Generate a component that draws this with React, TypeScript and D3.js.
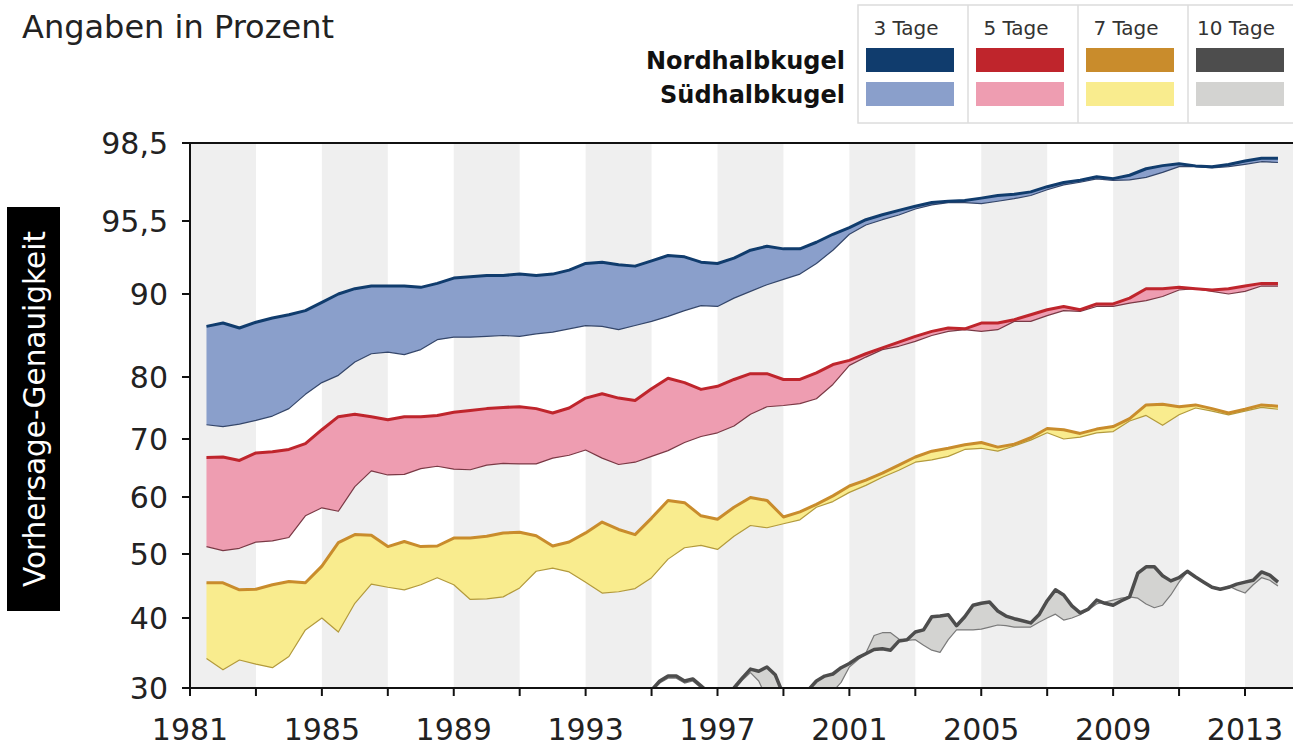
import React from 'react';
import * as d3 from 'd3';

// ---------- DATA ----------
const yearsMain = [
  1981.5, 1982, 1982.5, 1983, 1983.5, 1984, 1984.5, 1985, 1985.5, 1986,
  1986.5, 1987, 1987.5, 1988, 1988.5, 1989, 1989.5, 1990, 1990.5, 1991,
  1991.5, 1992, 1992.5, 1993, 1993.5, 1994, 1994.5, 1995, 1995.5, 1996,
  1996.5, 1997, 1997.5, 1998, 1998.5, 1999, 1999.5, 2000, 2000.5, 2001,
  2001.5, 2002, 2002.5, 2003, 2003.5, 2004, 2004.5, 2005, 2005.5, 2006,
  2006.5, 2007, 2007.5, 2008, 2008.5, 2009, 2009.5, 2010, 2010.5, 2011,
  2011.5, 2012, 2012.5, 2013, 2013.5, 2014,
];

const nh3 = [
  86.1, 86.5, 85.9, 86.6, 87.1, 87.5, 88.0, 89.0, 90.0, 90.4,
  90.6, 90.6, 90.6, 90.5, 90.8, 91.2, 91.3, 91.4, 91.4, 91.5,
  91.4, 91.5, 91.8, 92.3, 92.4, 92.2, 92.1, 92.5, 92.9, 92.8,
  92.4, 92.3, 92.7, 93.3, 93.6, 93.4, 93.4, 93.9, 94.5, 95.0,
  95.55, 95.74, 95.91, 96.07, 96.21, 96.26, 96.29, 96.38, 96.48, 96.53,
  96.62, 96.82, 96.98, 97.07, 97.2, 97.13, 97.26, 97.51, 97.63, 97.7,
  97.62, 97.59, 97.67, 97.81, 97.91, 97.91,
];
const sh3 = [
  72.3, 72.0, 72.4, 73.0, 73.7, 74.9, 77.2, 79.1, 80.2, 81.8,
  82.8, 83.0, 82.7, 83.3, 84.5, 84.8, 84.8, 84.9, 85.0, 84.9,
  85.2, 85.4, 85.8, 86.2, 86.1, 85.7, 86.2, 86.7, 87.3, 88.0,
  88.6, 88.5, 89.5, 90.2, 90.7, 91.1, 91.5, 92.3, 93.3, 94.5,
  95.2, 95.55, 95.73, 95.96, 96.12, 96.21, 96.21, 96.17, 96.26, 96.36,
  96.48, 96.7, 96.89, 96.99, 97.12, 97.06, 97.08, 97.18, 97.37, 97.59,
  97.59, 97.54, 97.59, 97.68, 97.78, 97.75,
];
const nh5 = [
  66.8, 66.9, 66.3, 67.6, 67.8, 68.2, 69.2, 71.5, 73.6, 74.0,
  73.6, 73.1, 73.6, 73.6, 73.8, 74.3, 74.6, 74.9, 75.1, 75.2,
  74.9, 74.2, 75.0, 76.6, 77.3, 76.6, 76.2, 78.1, 79.8, 79.1,
  78.0, 78.5, 79.6, 80.4, 80.4, 79.6, 79.6, 80.5, 81.5, 82.0,
  82.8, 83.5, 84.2, 84.9, 85.5, 85.9, 85.8, 86.5, 86.5, 86.9,
  87.5, 88.1, 88.5, 88.1, 88.8, 88.8, 89.5, 90.4, 90.4, 90.5,
  90.4, 90.3, 90.4, 90.6, 90.8, 90.8,
];
const sh5 = [
  51.3, 50.6, 51.0, 52.1, 52.3, 52.9, 56.7, 58.1, 57.5, 61.8,
  64.5, 63.8, 63.9, 64.9, 65.3, 64.8, 64.7, 65.5, 65.8, 65.7,
  65.7, 66.7, 67.2, 68.1, 66.7, 65.6, 66.0, 67.0, 68.0, 69.4,
  70.4, 71.0, 72.1, 74.0, 75.2, 75.4, 75.7, 76.5, 78.8, 81.4,
  82.4, 83.3, 83.7, 84.3, 85.0, 85.5, 85.7, 85.5, 85.7, 86.7,
  86.7, 87.4, 88.0, 87.9, 88.5, 88.5, 88.9, 89.2, 89.7, 90.3,
  90.4, 90.2, 90.0, 90.2, 90.6, 90.6,
];
const nh7 = [
  45.5, 45.5, 44.4, 44.5, 45.2, 45.7, 45.5, 48.1, 52.0, 53.4,
  53.3, 51.3, 52.2, 51.3, 51.4, 52.8, 52.8, 53.1, 53.7, 53.8,
  53.2, 51.4, 52.1, 53.7, 55.6, 54.3, 53.4, 56.3, 59.4, 59.0,
  56.7, 56.1, 58.2, 59.9, 59.4, 56.5, 57.4, 58.7, 60.2, 61.9,
  62.9, 64.1, 65.5, 66.9, 67.9, 68.4, 69.0, 69.4, 68.6, 69.1,
  70.2, 71.7, 71.5, 70.9, 71.6, 72.0, 73.3, 75.5, 75.6, 75.2,
  75.5, 74.9, 74.2, 74.8, 75.5, 75.3,
];
const sh7 = [
  34.2, 32.6, 34.0, 33.4, 32.9, 34.5, 38.3, 40.0, 38.0, 42.3,
  45.3, 44.8, 44.4, 45.2, 46.3, 45.2, 42.9, 43.0, 43.3, 44.7,
  47.3, 47.8, 47.2, 45.6, 43.9, 44.1, 44.6, 46.3, 49.2, 51.1,
  51.5, 50.8, 53.1, 55.0, 54.6, 55.3, 56.0, 58.2, 59.2, 60.8,
  62.0, 63.4, 64.6, 66.0, 66.4, 67.0, 68.2, 68.4, 67.9, 68.8,
  69.8, 71.0, 70.0, 70.3, 71.0, 71.2, 72.9, 73.8, 72.2, 73.9,
  75.0, 74.5, 73.9, 74.5, 75.1, 74.8,
];

const years10 = [
  1994.75,
  1995, 1995.25, 1995.5, 1995.75, 1996, 1996.25, 1996.5, 1996.75,
  1997, 1997.25, 1997.5, 1997.75, 1998, 1998.25, 1998.5, 1998.75,
  1999, 1999.25, 1999.5, 1999.75, 2000, 2000.25, 2000.5, 2000.75,
  2001, 2001.25, 2001.5, 2001.75, 2002, 2002.25, 2002.5, 2002.75,
  2003, 2003.25, 2003.5, 2003.75, 2004, 2004.25, 2004.5, 2004.75,
  2005, 2005.25, 2005.5, 2005.75, 2006, 2006.25, 2006.5, 2006.75,
  2007, 2007.25, 2007.5, 2007.75, 2008, 2008.25, 2008.5, 2008.75,
  2009, 2009.25, 2009.5, 2009.75, 2010, 2010.25, 2010.5, 2010.75,
  2011, 2011.25, 2011.5, 2011.75, 2012, 2012.25, 2012.5, 2012.75,
  2013, 2013.25, 2013.5, 2013.75, 2014,
];
const nh10 = [
  28.5,
  29.7, 31.0, 31.7, 31.7, 31.0, 31.3, 30.3, 29.3,
  28.5, 29.0, 30.0, 31.4, 32.7, 32.4, 33.0, 31.9,
  29.0, 28.0, 28.5, 29.7, 31.0, 31.7, 32.0, 32.9,
  33.5, 34.3, 34.9, 35.5, 35.6, 35.4, 36.7, 36.9,
  38.0, 38.3, 40.2, 40.3, 40.5, 38.9, 40.2, 42.0,
  42.3, 42.5, 41.1, 40.3, 39.9, 39.6, 39.3, 40.5,
  42.7, 44.4, 43.6, 41.9, 40.8, 41.4, 42.8, 42.3,
  42.0, 42.7, 43.3, 47.0, 48.0, 48.0, 46.6, 45.8,
  46.3, 47.3, 46.4, 45.6, 44.8, 44.5, 44.8, 45.3,
  45.6, 45.9, 47.2, 46.7, 45.6,
];
const sh10 = [
  28.3,
  29.5, 30.7, 31.4, 31.4, 30.7, 31.0, 30.0, 29.0,
  28.3, 28.7, 29.7, 31.1, 32.2, 31.0, 28.5, 28.5,
  28.0, 27.8, 28.0, 28.0, 28.5, 29.0, 29.5, 30.8,
  33.0, 34.0, 35.0, 37.5, 37.9, 37.9, 37.0, 36.8,
  36.9, 36.1, 35.4, 35.1, 36.9, 38.3, 38.3, 38.3,
  38.4, 38.7, 39.0, 38.9, 38.7, 38.7, 38.7, 39.4,
  40.0, 40.6, 39.7, 40.0, 40.5, 41.3, 42.2, 42.5,
  42.8, 43.1, 43.3, 43.1, 42.2, 41.6, 42.0, 43.6,
  45.6, 47.2, 46.3, 45.5, 44.7, 44.4, 45.0, 44.4,
  43.9, 45.2, 46.3, 45.9, 45.0,
];

const yTickValues = [30, 40, 50, 60, 70, 80, 90, 95.5, 98.5];
const yTickLabels = ['30', '40', '50', '60', '70', '80', '90', '95,5', '98,5'];
const xTickYears = [1981, 1983, 1985, 1987, 1989, 1991, 1993, 1995, 1997, 1999, 2001, 2003, 2005, 2007, 2009, 2011, 2013];
const xLabelYears = [1981, 1985, 1989, 1993, 1997, 2001, 2005, 2009, 2013];
const stripeStarts = [1981, 1985, 1989, 1993, 1997, 2001, 2005, 2009, 2013];
const leadLabels = ['3 Tage', '5 Tage', '7 Tage', '10 Tage'];
const hemiLabels = ['Nordhalbkugel', 'Südhalbkugel'];
const subtitle = 'Angaben in Prozent';
const yTitle = 'Vorhersage-Genauigkeit';

// ---------- STYLE ----------
const FONT = "'DejaVu Sans', Verdana, sans-serif";
const nhColors = ['#103c6d', '#bf252c', '#c98c2c', '#4d4d4d'];
const shFills = ['#8a9fcb', '#ee9db1', '#f9ec8e', '#d3d3d1'];
const shStrokes = ['#34466a', '#7a3945', '#b39a3c', '#7a7a7a'];

const W = 1293;
const H = 746;
const PL = 190;
const PT = 143;
const PB = 688;
const PR = 1293;

export default function App() {
  const x = d3.scaleLinear().domain([1981, 2013]).range([190, 1245]);
  const y = d3.scaleLinear().domain(yTickValues).range([688, 618, 554, 497, 439, 377, 294, 221, 143]);

  const groups = [
    { years: yearsMain, nh: nh3, sh: sh3 },
    { years: yearsMain, nh: nh5, sh: sh5 },
    { years: yearsMain, nh: nh7, sh: sh7 },
    { years: years10, nh: nh10, sh: sh10 },
  ];

  const shapes = groups.map((g) => {
    const n = Math.min(g.years.length, g.nh.length, g.sh.length);
    const idx = d3.range(n);
    const area = d3
      .area<number>()
      .x((i) => x(g.years[i]))
      .y0((i) => y(g.sh[i]))
      .y1((i) => y(g.nh[i]))(idx) as string;
    const nhLine = d3
      .line<number>()
      .x((i) => x(g.years[i]))
      .y((i) => y(g.nh[i]))(idx) as string;
    const shLine = d3
      .line<number>()
      .x((i) => x(g.years[i]))
      .y((i) => y(g.sh[i]))(idx) as string;
    return { area, nhLine, shLine };
  });

  const colX = [858, 968, 1078, 1188];

  return (
    <svg
      width={W}
      height={H}
      style={{ position: 'absolute', left: 0, top: 0, background: '#fff' }}
      fontFamily={FONT}
    >
      <defs>
        <clipPath id="plotClip">
          <rect x={PL} y={PT} width={PR - PL} height={PB - PT - 1} />
        </clipPath>
      </defs>

      {/* subtitle */}
      <text x={22} y={38} fontSize={32} fill="#222">
        {subtitle}
      </text>

      {/* legend */}
      <g>
        <rect x={858} y={5} width={440} height={118} fill="#fff" stroke="#dcdcdc" strokeWidth={1.5} />
        {colX.slice(1).map((cx) => (
          <line key={cx} x1={cx} x2={cx} y1={5} y2={123} stroke="#dcdcdc" strokeWidth={1.5} />
        ))}
        {leadLabels.map((l, i) => (
          <g key={l}>
            <text x={colX[i] + 48} y={35} fontSize={20} fill="#333" textAnchor="middle">
              {l}
            </text>
            <rect x={colX[i] + 8} y={48} width={88} height={24} fill={nhColors[i]} />
            <rect x={colX[i] + 8} y={82} width={88} height={24} fill={shFills[i]} />
          </g>
        ))}
        {hemiLabels.map((h, j) => (
          <text key={h} x={845} y={69 + j * 34} fontSize={24} fontWeight="bold" fill="#111" textAnchor="end">
            {h}
          </text>
        ))}
      </g>

      {/* background stripes */}
      <g clipPath="url(#plotClip)">
        {stripeStarts.map((s) => (
          <rect key={s} x={x(s)} y={PT} width={x(s + 2) - x(s)} height={PB - PT} fill="#efefef" />
        ))}
      </g>

      {/* series */}
      <g clipPath="url(#plotClip)">
        {shapes.map((s, i) => (
          <g key={i}>
            <path d={s.area} fill={shFills[i]} stroke="none" />
            <path d={s.shLine} fill="none" stroke={shStrokes[i]} strokeWidth={1.2} strokeLinejoin="round" />
            <path d={s.nhLine} fill="none" stroke={nhColors[i]} strokeWidth={i === 3 ? 3.5 : 3} strokeLinejoin="round" />
          </g>
        ))}
      </g>

      {/* axes */}
      <line x1={PL} x2={PR} y1={PT} y2={PT} stroke="#111" strokeWidth={2} />
      <line x1={PL} x2={PL} y1={PT} y2={PB} stroke="#111" strokeWidth={2} />
      <line x1={PL} x2={PR} y1={PB} y2={PB} stroke="#111" strokeWidth={2} />

      {yTickValues.map((v, i) => (
        <g key={v}>
          <line x1={PL - 8} x2={PL} y1={y(v)} y2={y(v)} stroke="#111" strokeWidth={2} />
          <text x={168} y={y(v)} dy="0.36em" fontSize={30} fill="#222" textAnchor="end">
            {yTickLabels[i]}
          </text>
        </g>
      ))}

      {xTickYears.map((t) => (
        <line key={t} x1={x(t)} x2={x(t)} y1={PB} y2={PB + 8} stroke="#111" strokeWidth={2} />
      ))}
      {xLabelYears.map((t) => (
        <text key={t} x={x(t)} y={740} fontSize={30} fill="#222" textAnchor="middle">
          {t}
        </text>
      ))}

      {/* y-axis title box */}
      <rect x={7} y={207} width={53} height={404} fill="#000" />
      <text
        transform={`translate(${34},${409}) rotate(-90)`}
        fontSize={29.5}
        fill="#fff"
        textAnchor="middle"
        dy="0.36em"
      >
        {yTitle}
      </text>
    </svg>
  );
}
